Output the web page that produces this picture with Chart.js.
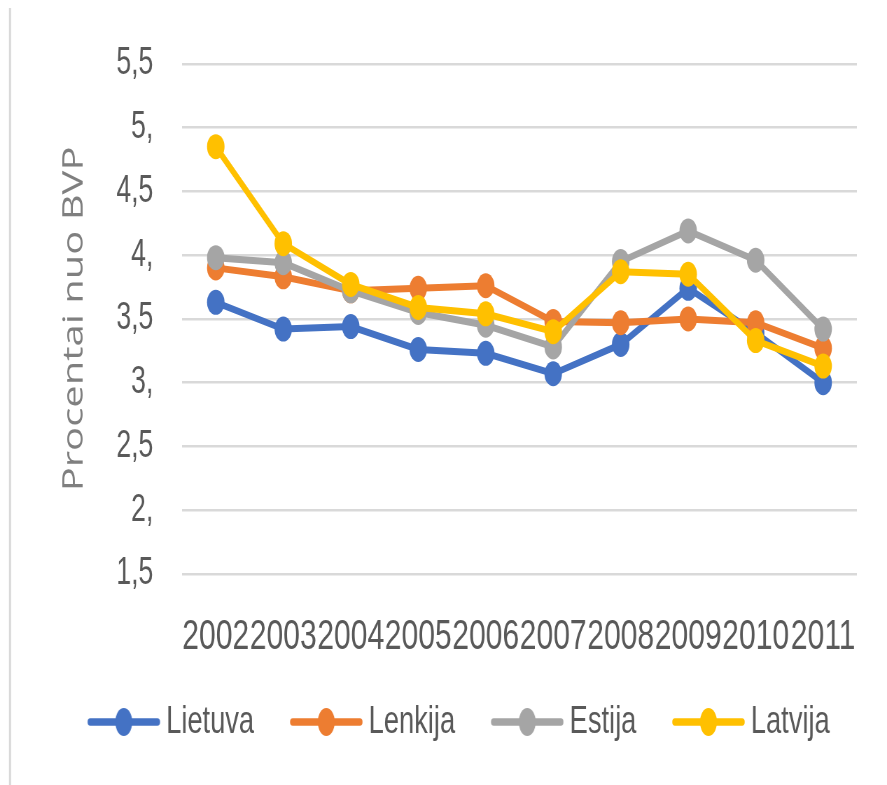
<!DOCTYPE html>
<html lang="lt">
<head>
<meta charset="UTF-8">
<title>Procentai nuo BVP</title>
<script src="https://cdn.jsdelivr.net/npm/chart.js@4.4.1/dist/chart.umd.min.js"></script>
<style>
  body { margin: 0; background: #fff; }
</style>
</head>
<body>
<!-- canvas is drawn wider and squeezed to 887px, like the narrow reference -->
<canvas id="c" width="1267" height="785" style="width:887px;height:785px"></canvas>
<script>
const years = ['2002', '2003', '2004', '2005', '2006', '2007', '2008', '2009', '2010', '2011'];
const lietuva = [3.63, 3.42, 3.44, 3.26, 3.23, 3.07, 3.30, 3.74, 3.39, 3.00];
const lenkija = [3.90, 3.83, 3.72, 3.74, 3.76, 3.48, 3.47, 3.50, 3.47, 3.27];
const estija  = [3.98, 3.94, 3.72, 3.55, 3.45, 3.28, 3.95, 4.19, 3.96, 3.42];
const latvija = [4.85, 4.09, 3.77, 3.59, 3.54, 3.40, 3.87, 3.85, 3.33, 3.13];
const yTickValues = [1.5, 2, 2.5, 3, 3.5, 4, 4.5, 5, 5.5];
const yTickLabels = ['1,5', '2,', '2,5', '3,', '3,5', '4,', '4,5', '5,', '5,5'];

const BLUE = '#4472C4', ORANGE = '#ED7D31', GRAY = '#A5A5A5', YELLOW = '#FFC000';
const TXT = '#595959';

// legend symbol: line with a dot in the middle
function legendIcon(color) {
  const cv = document.createElement('canvas');
  cv.width = 156; cv.height = 32;
  const g = cv.getContext('2d');
  g.strokeStyle = color; g.lineWidth = 7.5; g.lineCap = 'round';
  g.beginPath(); g.moveTo(56, 16); g.lineTo(152, 16); g.stroke();
  g.fillStyle = color;
  g.beginPath(); g.ellipse(104, 16, 12, 14, 0, 0, Math.PI * 2); g.fill();
  return cv;
}

function line(label, data, color, order) {
  return {
    label, data, order,
    borderColor: color, backgroundColor: color,
    borderWidth: 7,
    pointRadius: 12.5, pointHoverRadius: 12.5,
    pointBorderWidth: 0,
    pointBackgroundColor: color,
    tension: 0
  };
}

const frame = {
  id: 'frame',
  beforeDraw(chart) {
    const ctx = chart.ctx;
    ctx.save();
    ctx.strokeStyle = '#d9d9d9';
    ctx.lineWidth = 3;
    ctx.beginPath(); ctx.moveTo(14.3, 8); ctx.lineTo(14.3, 785); ctx.stroke();
    ctx.restore();
  }
};

new Chart('c', {
  type: 'line',
  data: {
    labels: years,
    datasets: [
      line('Lietuva', lietuva, BLUE, 3),
      line('Lenkija', lenkija, ORANGE, 2),
      line('Estija', estija, GRAY, 1),
      line('Latvija', latvija, YELLOW, 0)
    ]
  },
  options: {
    responsive: false,
    devicePixelRatio: 1,
    animation: false,
    layout: { padding: { top: 50, left: 45, right: 43, bottom: 33.5 } },
    plugins: {
      tooltip: { enabled: false },
      legend: {
        position: 'bottom',
        labels: {
          usePointStyle: true,
          pointStyleWidth: 134,
          padding: 10,
          color: TXT,
          font: { family: 'Liberation Sans', size: 39 },
          generateLabels(chart) {
            return chart.data.datasets.map((ds, i) => ({
              text: ds.label,
              pointStyle: legendIcon(ds.borderColor),
              fillStyle: ds.borderColor,
              strokeStyle: ds.borderColor,
              lineWidth: 0,
              fontColor: TXT,
              hidden: false,
              datasetIndex: i
            }));
          }
        }
      }
    },
    scales: {
      x: {
        offset: true,
        grid: { display: false },
        border: { display: false },
        ticks: {
          autoSkip: false, maxRotation: 0, minRotation: 0,
          padding: 29,
          color: TXT,
          font: { family: 'Liberation Sans', size: 43 }
        },
        afterFit(s) { s.height = 118.5; }
      },
      y: {
        min: 1.5, max: 5.5,
        border: { display: false },
        grid: { color: '#d9d9d9', lineWidth: 2.5, drawTicks: false },
        ticks: {
          stepSize: 0.5,
          padding: 41,
          color: TXT,
          font: { family: 'Liberation Sans', size: 38 },
          callback(v) {
            const i = yTickValues.findIndex(t => Math.abs(t - v) < 1e-6);
            return i >= 0 ? yTickLabels[i] : '';
          }
        },
        title: {
          display: true,
          text: 'Procentai nuo BVP',
          color: '#7f7f7f',
          padding: { top: 38, bottom: 0 },
          font: { family: 'Open Sans', size: 40 }
        },
        afterFit(s) { s.width = 215; }
      }
    }
  },
  plugins: [frame]
});
</script>
</body>
</html>
